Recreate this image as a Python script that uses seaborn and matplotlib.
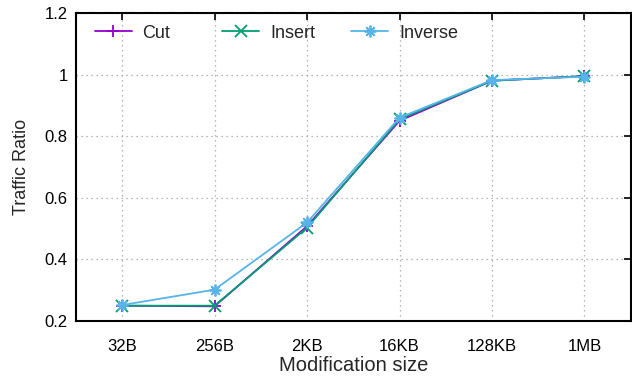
import seaborn as sns
import pandas as pd
import matplotlib.pyplot as plt

sizes = ['32B', '256B', '2KB', '16KB', '128KB', '1MB']
cut = [0.250, 0.248, 0.508, 0.850, 0.980, 0.995]
insert = [0.250, 0.250, 0.503, 0.855, 0.980, 0.995]
inverse = [0.252, 0.302, 0.520, 0.860, 0.982, 0.993]

df = pd.DataFrame({'Cut': cut, 'Insert': insert, 'Inverse': inverse, 'pos': range(len(sizes))})

sns.set_theme(style='white')
plt.rcParams['font.family'] = ['Liberation Sans', 'DejaVu Sans']

fig, ax = plt.subplots(figsize=(6.32, 3.8), dpi=100)
colors = {'Cut': '#9400D3', 'Insert': '#009E73', 'Inverse': '#56B4E9'}
markers = {'Cut': '+', 'Insert': 'x', 'Inverse': (8, 2, 0)}
for name in ['Cut', 'Insert', 'Inverse']:
    sns.lineplot(data=df, x='pos', y=name, color=colors[name], marker=markers[name],
                 markeredgecolor=colors[name], markersize=8.5, markeredgewidth=1.3,
                 linewidth=1.3, label=name, legend=False, ax=ax)

ax.set_xlim(-0.5, 5.5)
ax.set_ylim(0.2, 1.2)
ax.set_xticks(range(len(sizes)))
ax.set_xticklabels(sizes)
ax.set_yticks([0.2, 0.4, 0.6, 0.8, 1.0, 1.2])
ax.set_yticklabels(['0.2', '0.4', '0.6', '0.8', '1', '1.2'])
ax.tick_params(direction='in', length=5, width=1.2, top=True, right=True,
               labelsize=12, colors='black', pad=6)
ax.tick_params(axis='x', pad=13)
ax.grid(True, linestyle=(0, (1, 3)), color='#a0a0a0', linewidth=0.9)
for s in ax.spines.values():
    s.set_color('black')
    s.set_linewidth(1.5)
ax.set_xlabel('Modification size', fontsize=14.5, labelpad=1)
ax.set_ylabel('Traffic Ratio', fontsize=13, labelpad=10)

# gnuplot-style key: fixed-width columns, one legend per entry
lines = ax.get_lines()
legs = []
for line, xpos in zip(lines, [0.034, 0.264, 0.496]):
    leg = ax.legend([line], [line.get_label()], loc='upper left', frameon=False,
                    fontsize=13, handlelength=2.05, handletextpad=0.6,
                    borderpad=0, borderaxespad=0, bbox_to_anchor=(xpos, 0.962))
    legs.append(leg)
for leg in legs[:-1]:
    ax.add_artist(leg)

fig.subplots_adjust(left=0.12, right=0.998, top=0.966, bottom=0.155)
fig.savefig('out.png', dpi=100)
